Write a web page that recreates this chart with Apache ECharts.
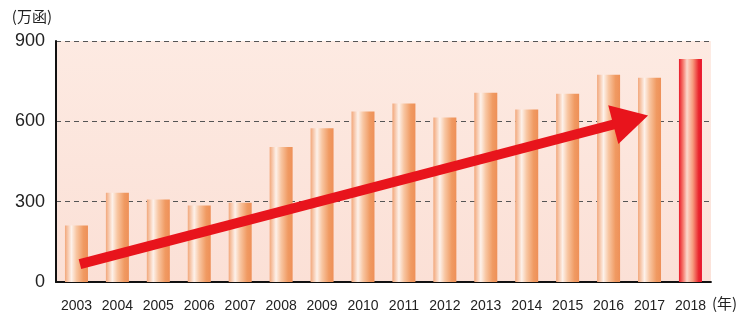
<!DOCTYPE html>
<html>
<head>
<meta charset="utf-8">
<script src="https://cdn.jsdelivr.net/npm/echarts@6/dist/echarts.min.js"></script>
<style>
  html, body { margin: 0; padding: 0; background: #fff; }
  #main { width: 740px; height: 313px; }
</style>
</head>
<body>
<div id="main"></div>
<script>
// 数据
var years = ['2003', '2004', '2005', '2006', '2007', '2008', '2009', '2010',
             '2011', '2012', '2013', '2014', '2015', '2016', '2017', '2018'];
var values = [211, 333, 308, 286, 296, 504, 574, 637, 667, 614, 707, 644, 703, 774, 763, 833];
var yTicks = [0, 300, 600, 900];
// 趋势箭头 (类目序号, 数值)
var arrowFrom = [0.085, 67];
var arrowTo = [13.54, 605];

var chart = echarts.init(document.getElementById('main'));

// 圆柱感的柱子渐变
var orangeBar = new echarts.graphic.LinearGradient(0, 0, 1, 0, [
    { offset: 0, color: '#f2a77a' },
    { offset: 0.28, color: '#fdf1ea' },
    { offset: 0.5, color: '#f8c6a2' },
    { offset: 0.8, color: '#f09a62' },
    { offset: 1, color: '#ee9058' }
]);
var redBar = new echarts.graphic.LinearGradient(0, 0, 1, 0, [
    { offset: 0, color: '#e81a2a' },
    { offset: 0.18, color: '#f67a6e' },
    { offset: 0.35, color: '#fbd8cc' },
    { offset: 0.6, color: '#f79b7e' },
    { offset: 0.85, color: '#ea2a30' },
    { offset: 1, color: '#e8102a' }
]);

var barData = values.map(function (v, i) {
    return {
        value: v,
        itemStyle: { color: i === values.length - 1 ? redBar : orangeBar }
    };
});

var option = {
    animation: false,
    grid: {
        left: 56, right: 27, top: 41, bottom: 29,
        show: true,
        borderWidth: 0,
        backgroundColor: new echarts.graphic.LinearGradient(0, 0, 0, 1, [
            { offset: 0, color: '#fdeae2' },
            { offset: 1, color: '#fbe0d6' }
        ])
    },
    xAxis: [{
        type: 'category',
        data: years,
        name: '(年)',
        nameLocation: 'end',
        nameGap: -7,
        nameTextStyle: {
            color: '#222', fontSize: 15, fontFamily: 'Noto Sans CJK SC',
            verticalAlign: 'top', padding: [14, 0, 0, 0]
        },
        axisLine: { lineStyle: { color: '#111', width: 2 } },
        axisTick: { show: false },
        axisLabel: {
            interval: 0,
            color: '#222', fontSize: 14, margin: 17,
            fontFamily: 'Liberation Sans'
        }
    }, {
        type: 'value',
        min: -0.5,
        max: 15.5,
        show: false
    }],
    yAxis: {
        type: 'value',
        min: yTicks[0],
        max: yTicks[yTicks.length - 1],
        interval: 300,
        name: '(万函)',
        nameLocation: 'end',
        nameGap: 17,
        nameTextStyle: {
            color: '#222', fontSize: 15, fontFamily: 'Noto Sans CJK SC',
            align: 'right', padding: [0, 4, 0, 0]
        },
        axisLine: { show: true, onZero: false, lineStyle: { color: '#111', width: 2 } },
        axisTick: { show: false },
        axisLabel: { color: '#222', fontSize: 18, margin: 11, fontFamily: 'Liberation Sans' },
        splitLine: { lineStyle: { color: '#555', type: [5, 4], width: 1 } }
    },
    series: [{
        type: 'bar',
        data: barData,
        barWidth: 23,
        z: 2
    }, {
        // 趋势箭头
        type: 'line',
        xAxisIndex: 1,
        data: [arrowFrom, arrowTo],
        showSymbol: false,
        lineStyle: { opacity: 0 },
        silent: true,
        z: 5,
        markLine: {
            silent: true,
            symbol: ['none', 'triangle'],
            symbolSize: [40, 36],
            label: { show: false },
            lineStyle: { color: '#e8141c', width: 10, type: 'solid' },
            data: [[{ coord: arrowFrom }, { coord: arrowTo }]]
        }
    }]
};

chart.setOption(option);
</script>
</body>
</html>
